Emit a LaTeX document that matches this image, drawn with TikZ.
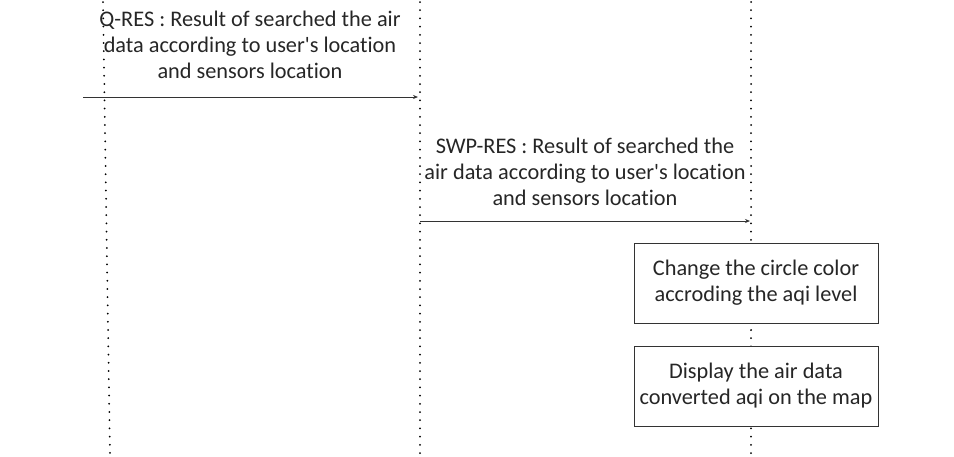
\documentclass[tikz,border=0pt]{standalone}
\usepackage{fontspec}
\setmainfont{Carlito}[Ligatures={TeXOff,CommonOff}]
\usetikzlibrary{arrows.meta}
\begin{document}
\begin{tikzpicture}[x=1pt,y=-1pt,
  lifeline/.style={line width=2pt, line cap=round, dash pattern=on 0pt off 8.2pt, black},
  msg/.style={draw=black!80, line width=0.8pt, -{Stealth[length=5pt,width=4pt]}},
  lbl/.style={align=center, font=\fontsize{22.3}{26}\selectfont, text=black!85, inner sep=0pt},
  actbox/.style={draw=black!80, line width=0.8pt, fill=white, minimum width=244pt, minimum height=80pt, align=center, font=\fontsize{22.3}{26}\selectfont, text=black!85}
]
\useasboundingbox (0,0) rectangle (954,456);
% lifelines
\coordinate (L1t) at (103,2);
\coordinate (L1b) at (110,456);
\coordinate (L2t) at (420,2);
\coordinate (L2b) at (420,456);
\coordinate (L3t) at (751,2);
\coordinate (L3b) at (751,456);
\draw[lifeline] (L1t) -- (L1b);
\draw[lifeline] (L2t) -- (L2b);
\draw[lifeline] (L3t) -- (L3b);
% messages
\coordinate (m1s) at (83,97);
\coordinate (m1e) at (418,97);
\draw[msg] (m1s) -- (m1e);
\node[lbl] (t1) at (250,45) {Q-RES : Result of searched the air\\data according to user's location\\and sensors location};
\coordinate (m2s) at (420,221);
\coordinate (m2e) at (750,221);
\draw[msg] (m2s) -- (m2e);
\node[lbl] (t2) at (585,172) {SWP-RES : Result of searched the\\air data according to user's location\\and sensors location};
% activity boxes
\node[actbox] (b1) at (756,283) {Change the circle color\\accroding the aqi level};
\node[actbox] (b2) at (756,386) {Display the air data\\converted aqi on the map};
\end{tikzpicture}
\end{document}
